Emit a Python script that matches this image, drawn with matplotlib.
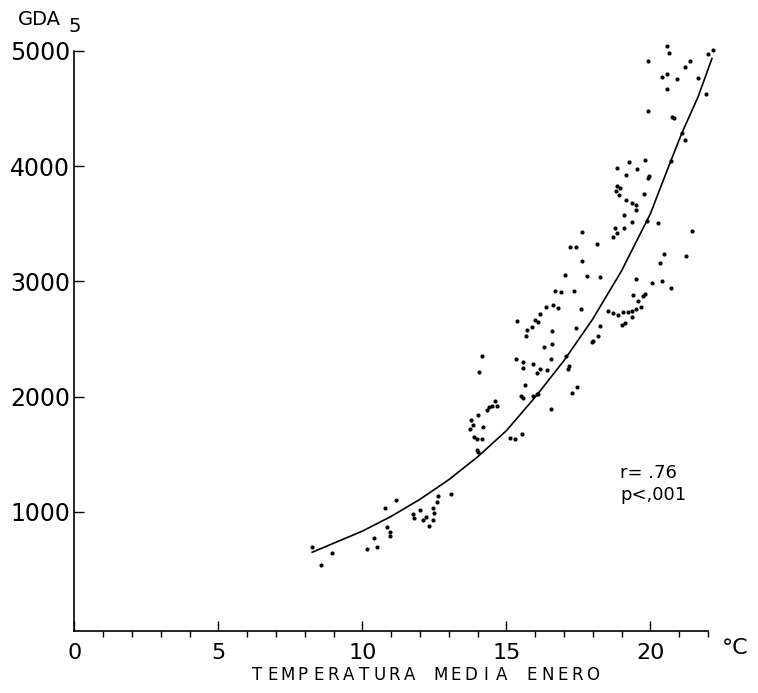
import matplotlib

matplotlib.use("Agg")
import matplotlib.pyplot as plt
from matplotlib.ticker import FixedLocator

# temperatura media de enero (°C) y GDA5 de cada estación
TEMP = [
    8.26, 8.56, 8.94, 10.15, 10.52, 10.40, 10.85, 10.96, 10.96, 10.80,
    11.17, 11.77, 11.81, 12.00, 12.12, 12.21, 12.31, 12.47, 12.48, 12.47,
    12.58, 12.64, 13.07, 14.05, 14.03, 13.76, 13.85, 13.74, 13.89, 13.97,
    13.97, 14.03,
    14.15, 15.36, 15.71, 15.68, 15.90, 16.00, 16.11, 15.33, 15.57, 15.57,
    15.92, 16.08, 15.66, 15.52, 15.57, 15.94, 16.06, 16.11, 14.61, 14.49,
    14.41, 14.32, 14.67,
    16.17, 16.38, 16.61, 16.78, 16.69, 16.89, 17.04, 17.21, 17.41, 17.35,
    16.58, 17.41, 16.58, 16.32, 16.54, 16.17, 16.42, 17.07, 17.19, 17.15,
    17.44, 17.27, 16.54, 14.20, 14.15, 15.13, 15.30, 15.53,
    17.63, 18.14, 17.62, 17.80, 18.24, 17.58, 18.25, 18.19, 18.02, 17.99,
    18.52, 18.69, 18.88, 19.06, 19.23, 19.35, 19.49, 19.66, 19.39, 19.73,
    19.82, 19.58, 19.35, 19.02, 19.12, 20.05, 20.40, 20.71, 19.50, 20.32,
    19.83, 19.27, 18.83, 19.53, 19.16, 19.97, 19.93, 18.83, 18.95, 18.81,
    18.91, 19.79, 19.16, 19.38, 19.52, 19.51, 19.09, 19.35, 19.88, 20.26,
    18.77, 19.08, 18.86, 18.70,
    20.59, 20.64, 19.91, 21.38, 22.01, 22.19, 21.22, 20.40, 20.57, 20.92,
    21.67, 20.57, 21.93, 19.93, 20.74, 20.83, 21.11, 21.22, 20.72, 21.44,
    20.48, 21.24,
]
GDA5 = [
    692, 542, 646, 681, 692, 776, 872, 826, 794, 1036,
    1106, 984, 944, 1019, 926, 958, 880, 932, 987, 1034,
    1088, 1134, 1155, 2210, 1837, 1794, 1756, 1719, 1646, 1632,
    1539, 1516,
    2349, 2658, 2578, 2528, 2600, 2667, 2644, 2326, 2297, 2248,
    2283, 2205, 2103, 2002, 1990, 2002, 2019, 2025, 1958, 1921,
    1906, 1886, 1915,
    2716, 2774, 2791, 2768, 2912, 2904, 3055, 3294, 3294, 2918,
    2572, 2595, 2459, 2427, 2326, 2242, 2233, 2355, 2262, 2242,
    2083, 2031, 1892, 1733, 1635, 1641, 1632, 1676,
    3428, 3323, 3173, 3049, 3034, 2760, 2615, 2526, 2485, 2472,
    2739, 2728, 2708, 2730, 2736, 2745, 2758, 2780, 2884, 2875,
    2886, 2826, 2687, 2619, 2638, 2988, 2999, 2942, 3023, 3161,
    4055, 4033, 3985, 3975, 3920, 3910, 3899, 3829, 3812, 3783,
    3751, 3757, 3702, 3682, 3662, 3621, 3578, 3513, 3520, 3506,
    3465, 3462, 3419, 3382,
    5043, 4985, 4913, 4916, 4974, 5003, 4859, 4777, 4798, 4755,
    4768, 4673, 4627, 4480, 4425, 4413, 4286, 4228, 4040, 3433,
    3239, 3216,
]

# curva ajustada
FIT_TEMP = [8.26, 10, 11, 12, 13, 14, 15, 16, 17, 18, 19, 20, 20.7, 21.1, 21.66, 22.14]
FIT_GDA5 = [649, 832, 960, 1108, 1278, 1476, 1703, 1994, 2311, 2672, 3090, 3585, 4037, 4289, 4601, 4933]

X_MAJOR = [0, 5, 10, 15, 20]
X_MINOR = [t for t in range(1, 23) if t % 5]
Y_TICKS = [1000, 2000, 3000, 4000, 5000]

R_TEXT = "r= .76"
P_TEXT = "p<,001"
X_TITLE = "TEMPERATURA MEDIA ENERO"

W, H = 758, 693


def main() -> None:
    plt.rcParams["font.family"] = ["DejaVu Sans"]
    fig = plt.figure(figsize=(W / 100, H / 100), dpi=100)
    ax = fig.add_axes([74.3 / W, 62.5 / H, 662.4 / W, 591.2 / H])
    ax.set_xlim(0, 23)
    ax.set_ylim(-30, 5100)

    ax.scatter(TEMP, GDA5, s=9, c="black", linewidths=0, zorder=3)
    ax.plot(FIT_TEMP, FIT_GDA5, color="black", lw=1.2)

    for side in ("top", "right"):
        ax.spines[side].set_visible(False)
    ax.spines["left"].set_bounds(-30, 5000)
    ax.spines["bottom"].set_bounds(0, 22)
    for side in ("left", "bottom"):
        ax.spines[side].set_linewidth(1.2)

    ax.set_xticks(X_MAJOR)
    ax.set_xticklabels([str(t) for t in X_MAJOR])
    ax.xaxis.set_minor_locator(FixedLocator(X_MINOR))
    ax.tick_params(axis="x", which="major", direction="in", length=7,
                   width=1, pad=9, labelsize=16)
    ax.tick_params(axis="x", which="minor", direction="out", length=4, width=1)
    ax.set_yticks(Y_TICKS)
    ax.set_yticklabels([str(v) for v in Y_TICKS])
    ax.tick_params(axis="y", direction="in", length=7, width=1, pad=3,
                   labelsize=17)

    ax.text(22.94, -178, "°C", ha="center", va="center", fontsize=16)
    ax.text(18.95, 1297, R_TEXT, ha="left", va="baseline", fontsize=13)
    ax.text(18.95, 1106, P_TEXT, ha="left", va="baseline", fontsize=13)

    # título del eje y con subíndice a tamaño completo
    fig.text(18 / W, 1 - 25 / H, "GDA", ha="left", va="baseline", fontsize=14)
    fig.text(68 / W, 1 - 32 / H, "5", ha="left", va="baseline", fontsize=14)

    # rótulo del eje x espaciado letra a letra
    x0, pitch = 257, 15.27
    for i, ch in enumerate(X_TITLE):
        fig.text((x0 + i * pitch) / W, 1 - 680 / H, ch, ha="center",
                 va="baseline", fontsize=12)

    fig.savefig("out.png", dpi=100)
    plt.close(fig)


if __name__ == "__main__":
    main()
